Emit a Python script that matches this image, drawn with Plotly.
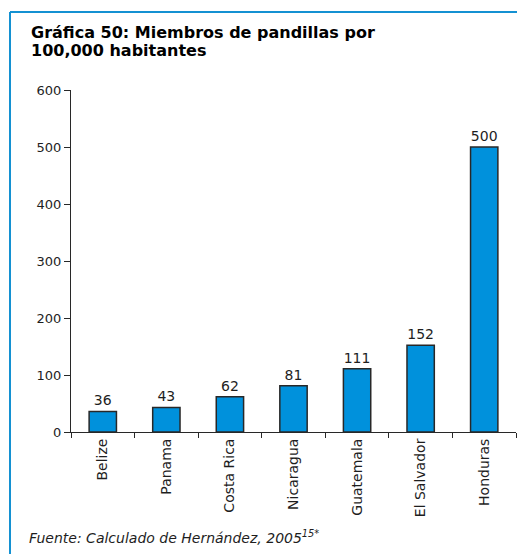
import plotly.graph_objects as go

countries = ['Belize', 'Panama', 'Costa Rica', 'Nicaragua', 'Guatemala', 'El Salvador', 'Honduras']
members_per_100k = [36, 43, 62, 81, 111, 152, 500]
y_ticks = [0, 100, 200, 300, 400, 500, 600]

# the page puts the figure 8px in from the window corner
OFF = 8
W, H = 525 - OFF, 554 - OFF
ML, MR, MT, MB = 71 - OFF, 9, 90 - OFF, 122
PW, PH = W - ML - MR, H - MT - MB

bar_color = 'rgb(0, 145, 220)'
frame_color = 'rgb(20, 145, 210)'
text_color = 'rgb(30, 30, 30)'
font_family = 'DejaVu Sans, sans-serif'


def px_x(p):
    # screen pixel -> paper fraction
    return (p - OFF - ML) / PW


def px_y(p):
    return (H - MB - (p - OFF)) / PH


fig = go.Figure(go.Bar(
    x=countries,
    y=members_per_100k,
    text=[str(v) for v in members_per_100k],
    textposition='outside',
    textfont=dict(size=14, color=text_color),
    cliponaxis=False,
    marker=dict(color=bar_color, line=dict(color='rgb(40, 40, 40)', width=1.5)),
    width=0.43,
))

fig.update_layout(
    width=W, height=H,
    margin=dict(l=ML, r=MR, t=MT, b=MB),
    paper_bgcolor='white', plot_bgcolor='white',
    font=dict(family=font_family, color=text_color),
    showlegend=False,
    annotations=[
        dict(text='<b>Gráfica 50: Miembros de pandillas por</b>',
             xref='paper', yref='paper', x=px_x(29), y=px_y(33),
             xanchor='left', yanchor='middle', align='left', showarrow=False,
             font=dict(size=16, color='black')),
        dict(text='<b>100,000 habitantes</b>',
             xref='paper', yref='paper', x=px_x(29), y=px_y(50),
             xanchor='left', yanchor='middle', align='left', showarrow=False,
             font=dict(size=16, color='black')),
        dict(text='<i>Fuente: Calculado de Hernández, 2005<sup>15*</sup></i>',
             xref='paper', yref='paper', x=px_x(27), y=px_y(537),
             xanchor='left', yanchor='middle', align='left', showarrow=False,
             font=dict(size=14, color=text_color)),
    ],
    shapes=[
        dict(type='line', xref='paper', yref='paper', x0=px_x(10), x1=px_x(530),
             y0=px_y(12), y1=px_y(12), line=dict(color=frame_color, width=2)),
        dict(type='line', xref='paper', yref='paper', x0=px_x(10), x1=px_x(10),
             y0=px_y(12), y1=px_y(560), line=dict(color=frame_color, width=2)),
    ],
)

fig.update_xaxes(
    showline=True, linecolor='rgb(40, 40, 40)', linewidth=1,
    ticks='outside', ticklen=5, tickcolor='rgb(40, 40, 40)',
    tickson='boundaries', tickangle=-90,
    tickfont=dict(size=14, color=text_color),
    showgrid=False,
)
fig.update_yaxes(
    range=[0, 600], tickvals=y_ticks,
    showline=True, linecolor='rgb(40, 40, 40)', linewidth=1,
    ticks='outside', ticklen=6, tickcolor='rgb(40, 40, 40)',
    tickfont=dict(size=13, color=text_color),
    showgrid=False, zeroline=False,
)

fig.write_html('out.html')
